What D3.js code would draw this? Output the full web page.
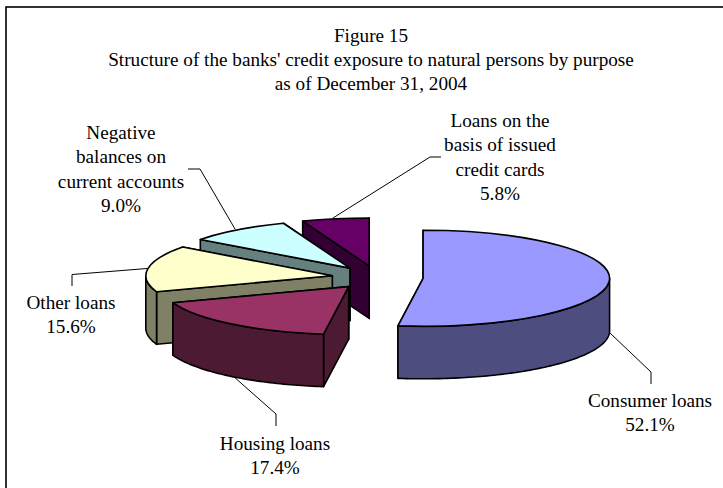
<!DOCTYPE html>
<html><head><meta charset="utf-8">
<style>html,body{margin:0;padding:0;background:#fff}svg{display:block}text{font-family:"Liberation Serif",serif;font-size:19.2px;fill:#000;text-anchor:middle}</style>
<script src="https://cdn.jsdelivr.net/npm/d3@7"></script></head><body>
<script>
const categories=["Consumer loans","Housing loans","Other loans","Negative balances on current accounts","Loans on the basis of issued credit cards"];
const values=[52.1,17.4,15.6,9.0,5.8];
const topColors=["#9999ff","#993366","#ffffcc","#ccffff","#660066"];
const wallColors=["#4d4d80","#4d1a33","#808066","#668080","#330033"];
const labelLines=[["Consumer loans"],["Housing loans"],["Other loans"],["Negative","balances on","current accounts"],["Loans on the","basis of issued","credit cards"]];
const labelAnchors=[[650,407],[275,450],[71,309],[121,139],[500,127]];
const leaders=[[[610,333],[651,372],[651,384]],[[233,376],[276,414],[276,426]],[[147,268.5],[72,274.5],[72,286]],[[235,229],[200,169],[188,169]],[[333,218],[430,157],[441,157]]];
const titleLines=["Figure 15","Structure of the banks' credit exposure to natural persons by purpose","as of December 31, 2004"];
const W=723,H=488,cx=377.5,cy=277.5,rx=186.5,ry=48,depth=52.5,explode=0.245;
const svg=d3.select("body").append("svg").attr("width",W).attr("height",H);
svg.append("rect").attr("x",6).attr("y",7).attr("width",W+20).attr("height",H+20).attr("fill","#fff").attr("stroke","#000").attr("stroke-width",1.6);
const arcs=d3.pie().sort(null)(values);
const pt=(a,ax,ay,d=0)=>[ax+rx*Math.sin(a),ay-ry*Math.cos(a)+d];
const line=d3.line();
const stroke=s=>s.attr("stroke","#000").attr("stroke-width",1.6).attr("stroke-linejoin","round");
const topArc=d3.arc().innerRadius(0).outerRadius(rx);
const order=[4,3,2,1,0];
order.forEach(i=>{
  const s=arcs[i],mid=(s.startAngle+s.endAngle)/2;
  const ax=cx+explode*rx*Math.sin(mid),ay=cy-explode*ry*Math.cos(mid);
  const g=svg.append("g");
  // cut faces, the one further back first
  [s.startAngle,s.endAngle].map(a=>pt(a,ax,ay)).sort((p,q)=>p[1]-q[1]).forEach(p=>{
    stroke(g.append("path")).attr("d",line([[ax,ay],p,[p[0],p[1]+depth],[ax,ay+depth]])+"Z").attr("fill",wallColors[i]);
  });
  const a0=Math.max(s.startAngle,Math.PI/2),a1=Math.min(s.endAngle,Math.PI*1.5);
  if(a1>a0){
    const as=d3.range(a0,a1,0.02).concat(a1);
    const upper=as.map(a=>pt(a,ax,ay));
    const lower=as.slice().reverse().map(a=>pt(a,ax,ay,depth));
    stroke(g.append("path")).attr("d",line(upper.concat(lower))+"Z").attr("fill",wallColors[i]);
  }
  stroke(g.append("path")).attr("d",topArc(s)).attr("transform",`translate(${ax},${ay}) scale(1,${ry/rx})`)
    .attr("vector-effect","non-scaling-stroke").attr("fill",topColors[i]);
});
leaders.forEach(l=>svg.append("path").attr("d",line(l)).attr("fill","none").attr("stroke","#000").attr("stroke-width",1));
titleLines.forEach((t,i)=>svg.append("text").attr("x",371).attr("y",[42,66,90][i]).text(t));
labelLines.forEach((lines,i)=>{
  const all=lines.concat(values[i].toFixed(1)+"%");
  all.forEach((t,j)=>svg.append("text").attr("x",labelAnchors[i][0]).attr("y",labelAnchors[i][1]+j*24.3).text(t));
});
</script></body></html>
